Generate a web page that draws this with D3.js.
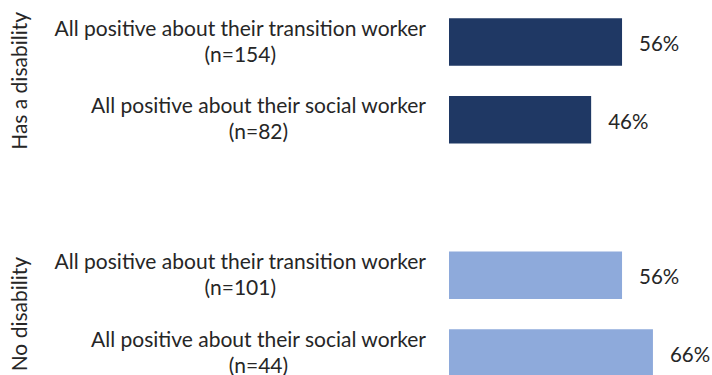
<!DOCTYPE html>
<html>
<head>
<meta charset="utf-8">
<script src="https://cdn.jsdelivr.net/npm/d3@7"></script>
<style>
  html, body { margin: 0; padding: 0; background: #ffffff; }
  svg { display: block; }
  text { font-family: Lato, "Open Sans", sans-serif; fill: #262626; }
</style>
</head>
<body>
<svg id="chart" width="712" height="375"></svg>
<script>
// Groups, categories and values
const groups = ["Has a disability", "No disability"];
const categories = [
  "All positive about their transition worker",
  "All positive about their social worker"
];
const sampleSizes = [[154, 82], [101, 44]];
const values = [[56, 46], [56, 66]];
const groupColors = ["#1f3864", "#8eaadb"];

// Flatten into rows, with an empty slot between the two groups
const rows = [];
groups.forEach((g, gi) => {
  categories.forEach((c, ci) => {
    rows.push({ key: g + "|" + c, group: gi, label: c, n: sampleSizes[gi][ci], value: values[gi][ci] });
  });
});
const slots = [rows[0].key, rows[1].key, "gap", rows[2].key, rows[3].key];

const svg = d3.select("#chart");
const labelSize = 21;
const valueSize = 20.5;

const x = d3.scaleLinear().domain([0, 100]).range([449, 758]);
const y = d3.scalePoint().domain(slots).range([42, 353]);
const barH = 47.5;

// Bars
svg.append("g").selectAll("rect")
  .data(rows)
  .join("rect")
  .attr("x", x(0))
  .attr("y", d => y(d.key) - barH / 2)
  .attr("width", d => x(d.value) - x(0))
  .attr("height", barH)
  .attr("fill", d => groupColors[d.group]);

// Value labels
svg.append("g").selectAll("text")
  .data(rows)
  .join("text")
  .attr("x", d => x(d.value) + 17)
  .attr("y", d => y(d.key) + 9)
  .attr("font-size", valueSize)
  .text(d => d.value + "%");

// Category labels: first line right-aligned, second line centred under it
const labelRight = 426;
const lab = svg.append("g").selectAll("g")
  .data(rows)
  .join("g");
lab.append("text")
  .attr("class", "l1")
  .attr("x", labelRight)
  .attr("y", d => y(d.key) - 6.3)
  .attr("text-anchor", "end")
  .attr("font-size", labelSize)
  .text(d => d.label);
lab.each(function (d) {
  const g = d3.select(this);
  const w = g.select("text.l1").node().getComputedTextLength();
  g.append("text")
    .attr("x", labelRight - w / 2)
    .attr("y", d => y(d.key) + 19.5)
    .attr("text-anchor", "middle")
    .attr("font-size", labelSize)
    .text("(n=" + d.n + ")");
});

// Rotated group labels
svg.append("g").selectAll("text")
  .data(groups)
  .join("text")
  .attr("transform", (g, gi) => {
    const cy = (y(rows[gi * 2].key) + y(rows[gi * 2 + 1].key)) / 2;
    return `translate(26.5,${cy}) rotate(-90)`;
  })
  .attr("text-anchor", "middle")
  .attr("font-size", labelSize)
  .text(d => d);
</script>
</body>
</html>
